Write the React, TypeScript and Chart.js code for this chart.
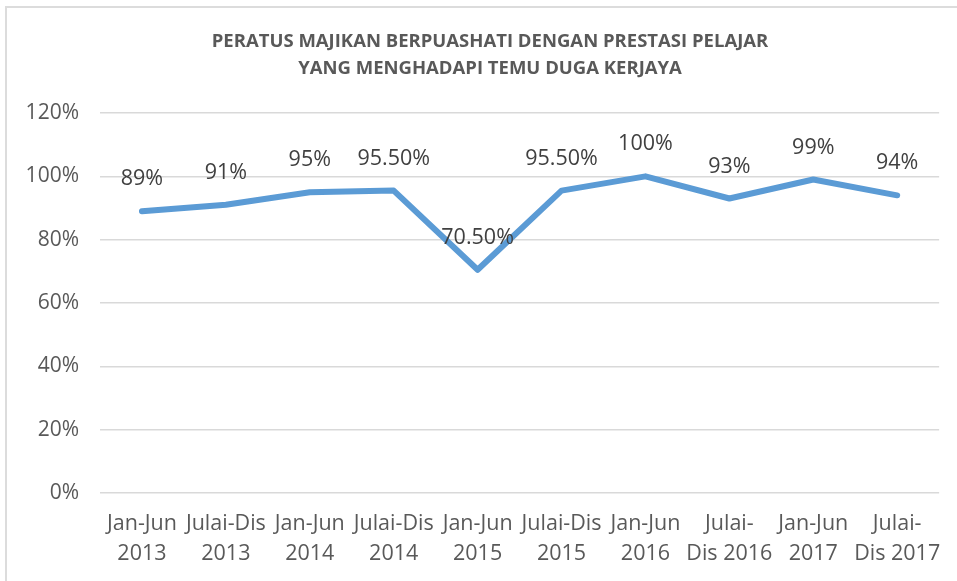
import React, { useEffect, useRef } from "react";
import { Chart, registerables } from "chart.js";

Chart.register(...registerables);

const titleLines = [
  "PERATUS MAJIKAN BERPUASHATI DENGAN PRESTASI PELAJAR",
  "YANG MENGHADAPI TEMU DUGA KERJAYA",
];

const categories: string[][] = [
  ["Jan-Jun", "2013"],
  ["Julai-Dis", "2013"],
  ["Jan-Jun", "2014"],
  ["Julai-Dis", "2014"],
  ["Jan-Jun", "2015"],
  ["Julai-Dis", "2015"],
  ["Jan-Jun", "2016"],
  ["Julai-", "Dis 2016"],
  ["Jan-Jun", "2017"],
  ["Julai-", "Dis 2017"],
];

const values = [89, 91, 95, 95.5, 70.5, 95.5, 100, 93, 99, 94];

const valueLabels = ["89%", "91%", "95%", "95.50%", "70.50%", "95.50%", "100%", "93%", "99%", "94%"];

const yMin = 0;
const yMax = 120;
const yStep = 20;

const FONT = "'Open Sans', sans-serif";

export default function App() {
  const canvasRef = useRef<HTMLCanvasElement | null>(null);

  useEffect(() => {
    if (!canvasRef.current) return;

    const titlePlugin = {
      id: "customTitle",
      afterDraw(chart: any) {
        const ctx = chart.ctx;
        ctx.save();
        ctx.fillStyle = "#595959";
        ctx.font = `bold 18.5px ${FONT}`;
        ctx.textAlign = "center";
        ctx.textBaseline = "middle";
        titleLines.forEach((t, i) => ctx.fillText(t, 490, 42 + i * 27));
        ctx.restore();
      },
    };

    const labelPlugin = {
      id: "valueLabels",
      afterDatasetsDraw(chart: any) {
        const ctx = chart.ctx;
        const meta = chart.getDatasetMeta(0);
        ctx.save();
        ctx.fillStyle = "#404040";
        ctx.font = `21.5px ${FONT}`;
        ctx.textAlign = "center";
        ctx.textBaseline = "alphabetic";
        meta.data.forEach((pt: any, i: number) => {
          ctx.fillText(valueLabels[i], pt.x, pt.y - 26);
        });
        ctx.restore();
      },
    };

    const chart = new Chart(canvasRef.current, {
      type: "line",
      data: {
        labels: categories,
        datasets: [
          {
            data: values,
            borderColor: "#5B9BD5",
            backgroundColor: "#5B9BD5",
            borderWidth: 6,
            borderCapStyle: "round",
            borderJoinStyle: "round",
            pointRadius: 0,
            pointHoverRadius: 0,
            tension: 0,
            fill: false,
          },
        ],
      },
      options: {
        animation: false,
        responsive: false,
        layout: { padding: { top: 113, right: 16, left: 0, bottom: 0 } },
        plugins: {
          legend: { display: false },
          title: { display: false },
          tooltip: { enabled: false },
        },
        scales: {
          x: {
            offset: true,
            grid: { display: false, drawTicks: false, offset: true },
            border: { display: false },
            ticks: {
              color: "#595959",
              font: { family: FONT, size: 21.5, lineHeight: 1.4 },
              padding: 16,
              maxRotation: 0,
              minRotation: 0,
              autoSkip: false,
            },
            afterFit(scale: any) {
              scale.height = 88;
            },
          },
          y: {
            min: yMin,
            max: yMax,
            grid: { color: "#d9d9d9", lineWidth: 1.5, drawTicks: false },
            border: { display: false },
            ticks: {
              stepSize: yStep,
              color: "#595959",
              font: { family: FONT, size: 21 },
              padding: 21,
              callback: (v: any) => `${v}%`,
            },
            afterFit(scale: any) {
              scale.width = 100;
            },
          },
        },
      },
      plugins: [titlePlugin, labelPlugin],
    } as any);

    return () => chart.destroy();
  }, []);

  return (
    <div
      style={{
        position: "fixed",
        left: 0,
        top: 0,
        width: 957,
        height: 581,
        overflow: "hidden",
        background: "#ffffff",
      }}
    >
      <div
        style={{
          position: "absolute",
          left: 5,
          top: 6,
          width: 2000,
          height: 2000,
          borderLeft: "2px solid #dcdcdc",
          borderTop: "2px solid #dcdcdc",
        }}
      />
      <canvas
        ref={canvasRef}
        width={957}
        height={581}
        style={{ position: "absolute", left: 0, top: 0, width: 957, height: 581 }}
      />
    </div>
  );
}
